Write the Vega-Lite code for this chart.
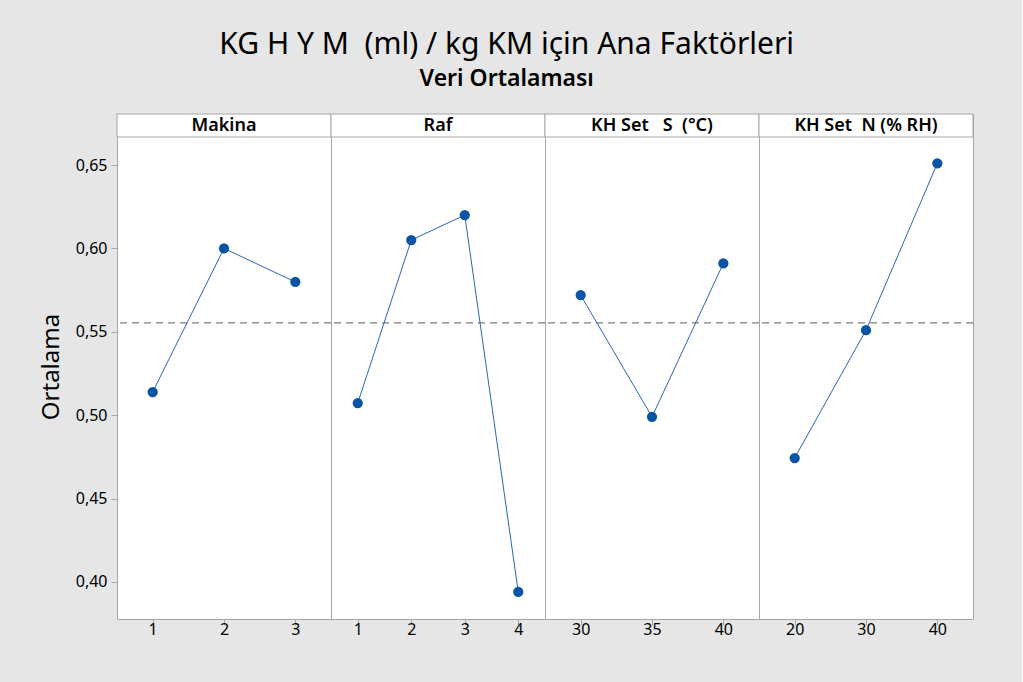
{
  "$schema": "https://vega.github.io/schema/vega-lite/v6.json",
  "background": "#e6e6e6",
  "padding": {"left": 39, "top": 30, "right": 47, "bottom": 44},
  "title": {
    "text": "KG H Y M\u00a0 (ml) / kg KM için Ana Faktörleri",
    "subtitle": "Veri Ortalaması",
    "anchor": "middle",
    "frame": "bounds",
    "font": "Noto Sans",
    "fontSize": 30,
    "fontWeight": "normal",
    "color": "#000000",
    "subtitleFont": "Noto Sans",
    "subtitleFontSize": 23,
    "subtitleFontWeight": 600,
    "subtitleColor": "#000000",
    "subtitlePadding": 8,
    "offset": 22
  },
  "data": {
    "values": [
      {"factor": "Makina", "level": "1", "mean": 0.5139},
      {"factor": "Makina", "level": "2", "mean": 0.6},
      {"factor": "Makina", "level": "3", "mean": 0.5799},
      {"factor": "Raf", "level": "1", "mean": 0.5073},
      {"factor": "Raf", "level": "2", "mean": 0.605},
      {"factor": "Raf", "level": "3", "mean": 0.62},
      {"factor": "Raf", "level": "4", "mean": 0.394},
      {"factor": "KH Set\u00a0\u00a0 S\u00a0 (°C)", "level": "30", "mean": 0.572},
      {"factor": "KH Set\u00a0\u00a0 S\u00a0 (°C)", "level": "35", "mean": 0.499},
      {"factor": "KH Set\u00a0\u00a0 S\u00a0 (°C)", "level": "40", "mean": 0.591},
      {"factor": "KH Set\u00a0 N (% RH)", "level": "20", "mean": 0.4743},
      {"factor": "KH Set\u00a0 N (% RH)", "level": "30", "mean": 0.551},
      {"factor": "KH Set\u00a0 N (% RH)", "level": "40", "mean": 0.651}
    ]
  },
  "facet": {
    "column": {
      "field": "factor",
      "type": "nominal",
      "sort": ["Makina", "Raf", "KH Set\u00a0\u00a0 S\u00a0 (°C)", "KH Set\u00a0 N (% RH)"],
      "header": {"title": null, "labels": false}
    }
  },
  "spacing": {"column": 0, "row": 0},
  "bounds": "flush",
  "resolve": {"scale": {"x": "independent"}},
  "spec": {
    "width": 214,
    "height": 505,
    "layer": [
      {
        "transform": [{"aggregate": [{"op": "count", "as": "n"}], "groupby": ["factor"]}],
        "mark": {"type": "rect", "fill": "#ffffff", "stroke": "#a6a6a6", "strokeWidth": 1},
        "encoding": {
          "x": {"value": 0},
          "x2": {"value": "width"},
          "y": {"datum": 0.6668, "type": "quantitative", "scale": {"domain": [0.3778, 0.6806], "nice": false, "zero": false}},
          "y2": {"datum": 0.6806}
        }
      },
      {
        "transform": [{"aggregate": [{"op": "count", "as": "n"}], "groupby": ["factor"]}],
        "mark": {"type": "text", "font": "Noto Sans", "fontSize": 18, "fontWeight": 600, "color": "#000000", "baseline": "middle"},
        "encoding": {
          "y": {"datum": 0.6737, "type": "quantitative"},
          "text": {"field": "factor", "type": "nominal"}
        }
      },
      {
        "transform": [{"aggregate": [{"op": "count", "as": "n"}], "groupby": ["factor"]}],
        "mark": {"type": "rule", "color": "#7f7f7f", "strokeDash": [7, 5], "strokeWidth": 1.2},
        "encoding": {
          "y": {"datum": 0.5553, "type": "quantitative"}
        }
      },
      {
        "mark": {"type": "line", "color": "#2a66b2", "strokeWidth": 1},
        "encoding": {
          "x": {"field": "level", "type": "ordinal", "scale": {"type": "point", "padding": 0.5}},
          "y": {"field": "mean", "type": "quantitative"}
        }
      },
      {
        "mark": {"type": "point", "filled": true, "color": "#0a54a6", "size": 105, "opacity": 1},
        "encoding": {
          "x": {
            "field": "level",
            "type": "ordinal",
            "scale": {"type": "point", "padding": 0.5},
            "axis": {
              "title": null,
              "labelAngle": 0,
              "labelAlign": "center",
              "labelFont": "Noto Sans",
              "labelFontSize": 16,
              "labelColor": "#000000",
              "labelPadding": 4,
              "tickSize": 6,
              "tickColor": "#a6a6a6",
              "domain": false,
              "grid": false
            }
          },
          "y": {
            "field": "mean",
            "type": "quantitative",
            "axis": {
              "title": "Ortalama",
              "titleFont": "Noto Sans",
              "titleFontSize": 24,
              "titleFontWeight": "normal",
              "titleColor": "#000000",
              "titlePadding": 12,
              "values": [0.4, 0.45, 0.5, 0.55, 0.6, 0.65],
              "labelExpr": "replace(format(datum.value, '.2f'), '.', ',')",
              "labelFont": "Noto Sans",
              "labelFontSize": 16,
              "labelColor": "#000000",
              "labelPadding": 4,
              "tickSize": 6,
              "tickColor": "#a6a6a6",
              "domain": false,
              "grid": false
            }
          }
        }
      }
    ]
  },
  "config": {
    "view": {"stroke": "#a6a6a6", "fill": "#ffffff"}
  }
}
